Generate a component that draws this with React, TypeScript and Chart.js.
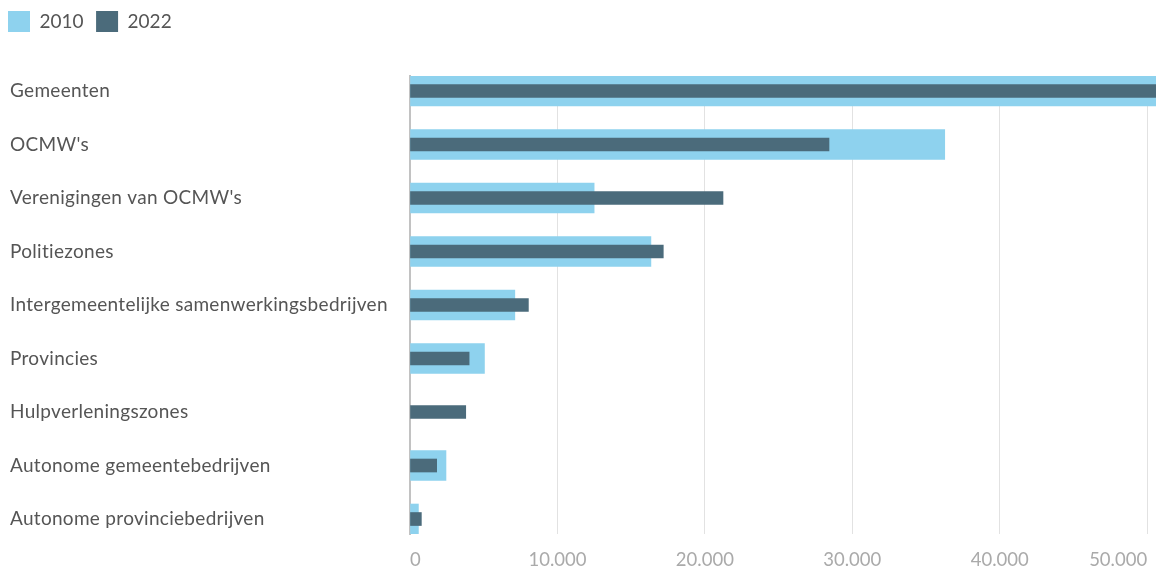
import React, { useEffect, useRef } from 'react';
import { Chart, registerables } from 'chart.js';

Chart.register(...registerables);

const categories: string[] = [
  'Gemeenten',
  "OCMW's",
  "Verenigingen van OCMW's",
  'Politiezones',
  'Intergemeentelijke samenwerkingsbedrijven',
  'Provincies',
  'Hulpverleningszones',
  'Autonome gemeentebedrijven',
  'Autonome provinciebedrijven',
];
const seriesLabels: string[] = ['2010', '2022'];
const values2010: (number | null)[] = [53000, 36270, 12490, 16340, 7110, 5050, null, 2440, 570];
const values2022: (number | null)[] = [52000, 28420, 21230, 17180, 8030, 4010, 3780, 1810, 770];
const xTickValues: number[] = [0, 10000, 20000, 30000, 40000, 50000];
const xMax = 50600;

const COLOR_2010 = '#8ED2EE';
const COLOR_2022 = '#4B6B7B';
const LEGEND_PAD = 12.5;

const fmt = (v: number) => String(v).replace(/\B(?=(\d{3})+(?!\d))/g, '.');

const layoutTweaks = {
  id: 'layoutTweaks',
  beforeInit(chart: any) {
    const lg: any = chart.legend;
    if (!lg || lg.__patched) return;
    const fit = lg.fit;
    lg.fit = function () {
      fit.call(this);
      this.height = 76;
    };
    lg.__patched = true;
  },
  afterLayout(chart: any) {
    const lg: any = chart.legend;
    if (lg) {
      lg.left = 8 - LEGEND_PAD;
      lg.top = 11 - LEGEND_PAD;
    }
    const y: any = chart.scales.y;
    if (y && !y.__patched) {
      const orig = y.drawLabels;
      y.drawLabels = function (area: any) {
        const ctx: any = this.ctx;
        ctx.save();
        ctx.letterSpacing = '0.3px';
        orig.call(this, area);
        ctx.restore();
      };
      y.__patched = true;
    }
  },
};

export default function App() {
  const ref = useRef<HTMLCanvasElement>(null);
  useEffect(() => {
    document.body.style.margin = '0';
    Chart.defaults.font.family = 'Lato';
    const chart = new Chart(ref.current as HTMLCanvasElement, {
      type: 'bar',
      data: {
        datasets: [
          {
            label: seriesLabels[0],
            data: categories.map((_, i) => ({ x: values2010[i], y: i })) as any,
            backgroundColor: COLOR_2010,
            barThickness: 30,
            order: 2,
          },
          {
            label: seriesLabels[1],
            data: categories.map((_, i) => ({ x: values2022[i], y: i })) as any,
            backgroundColor: COLOR_2022,
            barThickness: 13,
            order: 1,
          },
        ],
      },
      options: {
        indexAxis: 'y',
        animation: false,
        responsive: false,
        maintainAspectRatio: false,
        datasets: { bar: { grouped: false } } as any,
        layout: { padding: { left: 10, right: 0, top: 0, bottom: 0 } },
        plugins: {
          tooltip: { enabled: false },
          legend: {
            position: 'top',
            align: 'start',
            labels: {
              boxWidth: 22,
              boxHeight: 21,
              padding: LEGEND_PAD,
              color: '#555555',
              font: { size: 19, family: 'Lato' },
              sort: (a: any, b: any) => a.datasetIndex - b.datasetIndex,
            },
          },
        },
        scales: {
          x: {
            type: 'linear',
            position: 'bottom',
            min: 0,
            max: xMax,
            offset: false,
            afterBuildTicks: (s: any) => {
              s.ticks = xTickValues.map((v) => ({ value: v }));
            },
            afterFit: (s: any) => {
              s.height = 40;
              s.paddingLeft = 0;
              s.paddingRight = 0;
            },
            grid: { color: '#e2e2e2', lineWidth: 1, drawTicks: false, offset: false },
            border: { display: false },
            ticks: {
              align: 'inner',
              padding: 15,
              color: '#aaaaaa',
              font: { size: 18.5, family: 'Lato' },
              callback: (v: any) => fmt(Number(v)),
            },
          },
          y: {
            type: 'linear',
            reverse: true,
            offset: false,
            min: -0.28,
            max: 8.28,
            afterBuildTicks: (s: any) => {
              s.ticks = categories.map((_, i) => ({ value: i }));
            },
            afterFit: (s: any) => {
              s.width = 400;
              s.paddingTop = 0;
              s.paddingBottom = 0;
            },
            grid: { display: false, offset: false },
            border: { display: true, color: '#c2c2c2', width: 2 },
            ticks: {
              autoSkip: false,
              crossAlign: 'far',
              color: '#555555',
              font: { size: 19, family: 'Lato' },
              callback: (v: any) => categories[Number(v)] ?? '',
            },
          },
        } as any,
      },
      plugins: [layoutTweaks],
    });
    return () => chart.destroy();
  }, []);
  return (
    <div style={{ position: 'absolute', left: 0, top: 0, width: 1156, height: 574 }}>
      <canvas ref={ref} width={1156} height={574} style={{ display: 'block', width: 1156, height: 574 }} />
    </div>
  );
}
